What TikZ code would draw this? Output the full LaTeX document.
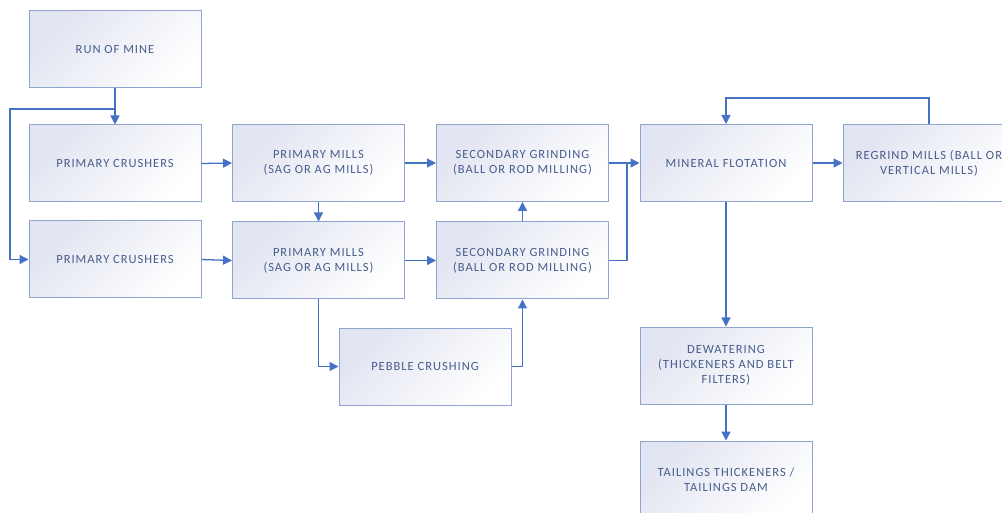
\documentclass[tikz,border=0pt]{standalone}
\usepackage{fontspec}
\usepackage{xcolor}
\usetikzlibrary{arrows.meta,calc,positioning}
\newfontfamily\boxfont{Carlito}[LetterSpace=8]
\definecolor{pipe}{HTML}{4472C4}
\definecolor{frame}{HTML}{8FA4CE}
\definecolor{label}{HTML}{485D8C}
\definecolor{shadetop}{HTML}{E1E4F1}
\tikzset{
  unit/.style={
    draw=frame,
    line width=1pt,
    shading=axis, top color=shadetop, bottom color=white, shading angle=45,
    minimum width=172pt,
    minimum height=77pt,
    inner sep=0pt,
    align=center,
    font=\boxfont\fontsize{12.5}{15}\selectfont,
    text=label
  },
  flow/.style={draw=pipe, line width=1.3pt, -{Triangle[length=9pt,width=9pt]}},
  pipeline/.style={draw=pipe, line width=1.3pt}
}

\begin{document}
\begin{tikzpicture}[x=1pt,y=-1pt]

\path[use as bounding box, fill=white] (0,0) rectangle (1002,513);

% --- Crushing ---
\node[unit] (mine) at (115,49.5) {RUN OF MINE};
\node[unit] (crush1) at (115,163.5) {PRIMARY CRUSHERS};
\node[unit] (crush2) at (115,259.5) {PRIMARY CRUSHERS};

% --- Milling ---
\node[unit] (mill1) at (318.5,163) {PRIMARY MILLS\\(SAG OR AG MILLS)};
\node[unit] (mill2) at (318.5,260.5) {PRIMARY MILLS\\(SAG OR AG MILLS)};
\node[unit] (grind1) at (522.5,163) {SECONDARY GRINDING\\(BALL OR ROD MILLING)};
\node[unit] (grind2) at (522.5,260.5) {SECONDARY GRINDING\\(BALL OR ROD MILLING)};
\node[unit] (pebble) at (425,366.5) {PEBBLE CRUSHING};

% --- Flotation and tailings ---
\node[unit] (flot) at (726,163) {MINERAL FLOTATION};
\node[unit] (regrind) at (929,163) {REGRIND MILLS (BALL OR\\VERTICAL MILLS)};
\node[unit] (dewater) at (726,365.5) {DEWATERING\\(THICKENERS AND BELT\\FILTERS)};
\node[unit] (tails) at (726,479.5) {TAILINGS THICKENERS /\\TAILINGS DAM};

% Feed split.
\coordinate (split) at (115,109);
\coordinate (bypass) at (10,109);
\draw[flow] (mine.south) -- (crush1.north);
\draw[flow] (split) -- (bypass) |- (crush2.west);

% Crushers to mills.
\draw[flow] (crush1.east) -- (mill1.west);
\draw[flow] (crush2.east) -- (mill2.west);
\draw[flow] (mill1.south) -- (mill2.north);
\draw[flow] (mill1.east) -- (grind1.west);
\draw[flow] (mill2.east) -- (grind2.west);

% Pebble circuit.
\draw[flow] (mill2.south) |- (pebble.west);
\draw[flow] (pebble.east) -| (grind2.south);
\draw[flow] (grind2.north) -- (grind1.south);

% Grinding to flotation.
\coordinate (merge) at (627,163);
\draw[flow] (grind1.east) -- (flot.west);
\draw[pipeline] (grind2.east) -| (merge);

% Regrind loop.
\draw[flow] (flot.east) -- (regrind.west);
\draw[flow] (regrind.north) -- ++(0,-26) -| (flot.north);

% Tailings.
\draw[flow] (flot.south) -- (dewater.north);
\draw[flow] (dewater.south) -- (tails.north);

\end{tikzpicture}
\end{document}
